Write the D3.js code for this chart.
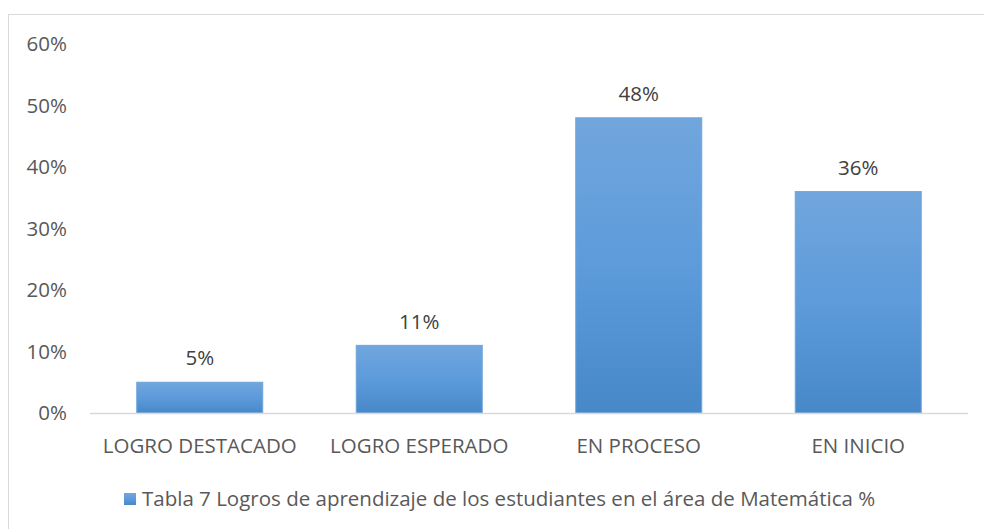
<!DOCTYPE html>
<html><head><meta charset="utf-8">
<script src="https://cdn.jsdelivr.net/npm/d3@7"></script>
<style>body{margin:0;background:#fff;} text{font-family:"Open Sans",sans-serif;}</style>
</head><body>
<svg id="c" width="984" height="529"></svg>
<script>
const categories = ["LOGRO DESTACADO","LOGRO ESPERADO","EN PROCESO","EN INICIO"];
const values = [0.05, 0.11, 0.48, 0.36];
const valueLabels = ["5%","11%","48%","36%"];
const yTicks = [0,0.1,0.2,0.3,0.4,0.5,0.6];
const legendLabel = "Tabla 7 Logros de aprendizaje de los estudiantes en el área de Matemática %";

const svg = d3.select("#c");
svg.append("rect").attr("x",8.5).attr("y",14.5).attr("width",1000).attr("height",600)
  .attr("fill","#fff").attr("stroke","#d9d9d9");

const defs = svg.append("defs");
const g = defs.append("linearGradient").attr("id","bg").attr("x1",0).attr("y1",0).attr("x2",0).attr("y2",1);
g.append("stop").attr("offset","0%").attr("stop-color","#71a6dd");
g.append("stop").attr("offset","50%").attr("stop-color","#5d9bdb");
g.append("stop").attr("offset","100%").attr("stop-color","#4788c9");

const x = d3.scaleBand().domain(categories).range([90,968]).paddingInner(0.426).paddingOuter(0.213);
const y = d3.scaleLinear().domain([0,0.6]).range([413,44]);
const fs = 20.5;

// y labels
svg.append("g").selectAll("text").data(yTicks).join("text")
  .attr("x",67).attr("y",d=>y(d)).attr("dy","0.35em").attr("text-anchor","end")
  .attr("font-size",fs).attr("fill","#595959").text(d=>d3.format(".0%")(d));

// bars
svg.append("g").selectAll("rect").data(values).join("rect")
  .attr("x",(d,i)=>x(categories[i])).attr("width",x.bandwidth())
  .attr("y",d=>y(d)).attr("height",d=>y(0)-y(d))
  .attr("fill","url(#bg)").attr("stroke","#6ea5dc").attr("stroke-width",1);

// baseline
svg.append("line").attr("x1",90).attr("x2",968).attr("y1",413.5).attr("y2",413.5)
  .attr("stroke","#d9d9d9").attr("stroke-width",1.5);

// value labels
svg.append("g").selectAll("text").data(values).join("text")
  .attr("x",(d,i)=>x(categories[i])+x.bandwidth()/2).attr("y",d=>y(d)-24).attr("dy","0.35em")
  .attr("text-anchor","middle").attr("font-size",fs).attr("fill","#404040")
  .text((d,i)=>valueLabels[i]);

// category labels
svg.append("g").selectAll("text").data(categories).join("text")
  .attr("x",d=>x(d)+x.bandwidth()/2).attr("y",446).attr("dy","0.35em")
  .attr("text-anchor","middle").attr("font-size",fs).attr("fill","#595959").text(d=>d);

// legend
const lg = svg.append("g");
lg.append("rect").attr("x",124).attr("y",493).attr("width",12).attr("height",12).attr("fill","url(#bg)");
lg.append("text").attr("x",142).attr("y",499).attr("dy","0.35em").attr("font-size",fs)
  .attr("fill","#595959").text(legendLabel);
</script>
</body></html>
